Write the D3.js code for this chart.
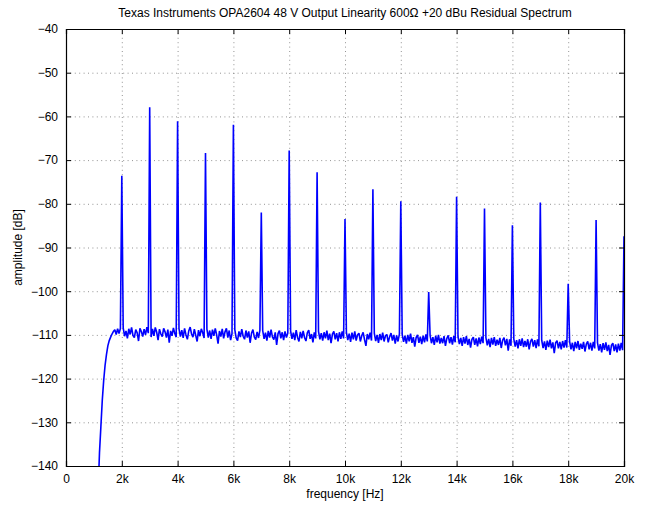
<!DOCTYPE html>
<html><head><meta charset="utf-8">
<script src="https://cdn.jsdelivr.net/npm/d3@7/dist/d3.min.js"></script>
<style>
html,body{margin:0;padding:0;background:#fff;}
svg text{font-family:"Liberation Sans",Arial,Helvetica,sans-serif;fill:#000;}
</style></head><body>
<svg id="chart" width="652" height="509"></svg>
<script>
const title = "Texas Instruments OPA2604 48 V Output Linearity 600\u03A9 +20 dBu Residual Spectrum";
const xLabel = "frequency [Hz]";
const yLabel = "amplitude [dB]";
const xTicks = [0,2000,4000,6000,8000,10000,12000,14000,16000,18000,20000];
const xTickLabels = ["0","2k","4k","6k","8k","10k","12k","14k","16k","18k","20k"];
const yTicks = [-40,-50,-60,-70,-80,-90,-100,-110,-120,-130,-140];

// harmonic residual peaks (Hz, dB)
const harmonicFreqs = [2000,3000,4000,5000,6000,7000,8000,9000,10000,11000,12000,13000,14000,15000,16000,17000,18000,19000,20000];
const harmonicLevels = [-73.6,-57.9,-61.1,-68.4,-61.9,-82.0,-67.8,-72.8,-83.5,-76.7,-79.4,-100.2,-78.4,-81.1,-84.9,-79.7,-98.3,-83.7,-87.4];

// noise floor, sampled every 50 Hz starting at 1150 Hz
const floorStart = 1150, floorStep = 50;
const floorLevels = [
 -146,-137,-131,-125,-120.5,-117,-114.5,-112.5,-111.3,-110.5,-109.8,-109.2,-108.8,-109.9,-108.6,-109.7,-108.5,
 -109.0,-108.4,-110.3,-109.1,-110.8,-108.6,-109.9,-108.3,-110.1,-110.6,-108.8,-109.5,-111.4,-108.5,-109.2,-110.4,-108.7,-110.0,-108.2,-109.6,
 -108.9,-110.5,-108.6,-110.2,-108.3,-109.4,-111.2,-108.7,-109.8,-110.4,-108.5,-109.3,-110.6,-108.8,-111.8,-109.1,-110.2,-108.4,-109.7,-110.5,
 -109.2,-108.6,-110.4,-108.9,-110.7,-108.5,-110.0,-111.0,-109.1,-108.2,-109.8,-110.5,-108.7,-110.1,-111.5,-108.9,-110.3,-108.6,-109.5,-110.7,
 -109.4,-108.7,-110.6,-109.0,-110.9,-108.8,-110.2,-108.5,-110.0,-112.0,-109.1,-110.4,-108.6,-110.8,-109.3,-108.5,-110.6,-109.0,-111.2,-109.7,
 -109.5,-108.8,-110.7,-111.3,-109.2,-110.5,-108.7,-110.3,-111.0,-109.0,-110.6,-109.2,-111.8,-109.6,-108.8,-110.5,-111.1,-109.3,-110.7,-108.9,
 -109.8,-109.0,-110.9,-109.5,-111.3,-109.1,-110.6,-108.8,-110.5,-111.1,-109.4,-112.3,-109.7,-109.0,-110.8,-109.4,-111.2,-109.2,-110.6,-109.6,
 -109.7,-109.1,-110.9,-109.5,-111.2,-108.9,-110.6,-111.5,-109.3,-110.8,-109.1,-110.6,-111.4,-109.5,-108.9,-110.9,-109.8,-111.7,-109.4,-110.8,
 -110.0,-109.2,-111.0,-109.6,-111.3,-109.4,-110.8,-109.0,-111.2,-109.7,-111.9,-109.8,-109.2,-111.0,-109.6,-111.5,-109.4,-110.9,-109.2,-110.8,
 -110.1,-109.4,-111.2,-109.7,-111.6,-109.5,-111.0,-109.2,-111.3,-110.0,-109.6,-111.5,-110.2,-109.4,-111.1,-112.5,-109.8,-111.0,-109.5,-111.3,
 -110.3,-109.6,-111.4,-110.0,-111.8,-109.8,-111.2,-109.5,-111.5,-110.2,-109.9,-111.7,-110.4,-109.6,-111.3,-110.0,-112.0,-110.1,-111.5,-109.8,
 -110.6,-109.9,-111.6,-110.2,-112.0,-110.0,-111.5,-109.7,-111.8,-110.5,-112.7,-110.6,-110.0,-111.8,-110.4,-112.1,-110.2,-111.7,-109.9,-111.5,
 -110.8,-110.1,-111.9,-110.5,-112.3,-110.2,-111.7,-110.0,-112.0,-110.7,-111.9,-110.3,-112.5,-110.8,-110.1,-111.9,-110.5,-112.2,-110.3,-111.7,
 -111.0,-110.4,-112.1,-110.7,-112.5,-110.5,-112.0,-110.3,-112.3,-110.9,-112.9,-111.0,-110.5,-112.3,-110.8,-112.6,-110.6,-112.1,-110.4,-111.9,
 -111.3,-110.6,-112.4,-110.9,-112.8,-110.7,-112.2,-110.5,-112.5,-111.1,-112.3,-110.7,-113.0,-111.2,-110.6,-112.4,-110.9,-113.6,-111.0,-112.5,
 -111.6,-110.9,-112.7,-111.2,-113.1,-111.0,-112.5,-110.8,-112.8,-111.4,-112.7,-111.0,-113.3,-111.5,-110.9,-112.7,-111.2,-113.0,-111.0,-112.6,
 -111.9,-111.2,-113.0,-111.5,-113.4,-111.3,-112.8,-111.1,-113.1,-111.7,-114.2,-111.8,-111.3,-113.1,-111.6,-113.3,-111.4,-112.9,-111.2,-112.9,
 -112.2,-111.5,-113.3,-111.8,-113.7,-111.6,-113.1,-111.4,-113.4,-112.0,-113.2,-111.6,-113.8,-112.1,-111.5,-113.3,-111.8,-113.6,-111.6,-113.1,
 -112.5,-111.8,-113.6,-112.1,-114.0,-111.9,-113.4,-111.7,-113.7,-112.3,-114.6,-112.4,-111.9,-113.7,-112.2,-114.0,-112.0,-113.6,-111.8,-113.5,
 -113.0
];

const W = 652, H = 509;
const m = {left:66, right:28, top:29, bottom:43};
const svg = d3.select("#chart");
const x = d3.scaleLinear().domain([0,20000]).range([m.left, W - m.right]);
const y = d3.scaleLinear().domain([-140,-40]).range([H - m.bottom, m.top]);

// build series
const peakMap = new Map(harmonicFreqs.map((f,i)=>[f,harmonicLevels[i]]));
const series = floorLevels.map((v,i)=>{
  const f = floorStart + i*floorStep;
  return {f, v: peakMap.has(f) ? peakMap.get(f) : v};
});

// grid
const grid = svg.append("g").attr("stroke","#777").attr("stroke-width",0.8).attr("stroke-dasharray","1,3.4");
xTicks.slice(1,-1).forEach(t=>{
  grid.append("line").attr("x1",x(t)+0.5).attr("x2",x(t)+0.5).attr("y1",y(-40)).attr("y2",y(-140));
});
yTicks.slice(1,-1).forEach(t=>{
  grid.append("line").attr("x1",x(0)).attr("x2",x(20000)).attr("y1",y(t)+0.5).attr("y2",y(t)+0.5);
});

// data line
svg.append("clipPath").attr("id","clip").append("rect")
  .attr("x",x(0)).attr("y",y(-40)).attr("width",x(20000)-x(0)+1).attr("height",y(-140)-y(-40));
svg.append("path").datum(series)
  .attr("clip-path","url(#clip)")
  .attr("fill","none").attr("stroke","#0000ff").attr("stroke-width",1.6)
  .attr("stroke-linejoin","miter").attr("stroke-miterlimit",2)
  .attr("d", d3.line().x(d=>x(d.f)).y(d=>y(d.v)));

// axes (MATLAB style: inward ticks on all sides)
const xAxisB = d3.axisBottom(x).tickValues(xTicks).tickSize(-5).tickPadding(8).tickFormat((d,i)=>xTickLabels[i]);
const xAxisT = d3.axisTop(x).tickValues(xTicks).tickSize(-5).tickFormat("");
const yAxisL = d3.axisLeft(y).tickValues(yTicks).tickSize(-5).tickPadding(8).tickFormat(d=>d3.format("d")(d).replace("-","\u2212"));
const yAxisR = d3.axisRight(y).tickValues(yTicks).tickSize(-5).tickFormat("");
function style(g){
  g.selectAll("path.domain").attr("stroke","#000").attr("stroke-width",1.2);
  g.selectAll(".tick line").attr("stroke","#000").attr("stroke-width",1);
  g.selectAll("text").style("font-size","12px").attr("fill","#000");
}
svg.append("g").attr("transform",`translate(0,${y(-140)})`).call(xAxisB).call(style);
svg.append("g").attr("transform",`translate(0,${y(-40)})`).call(xAxisT).call(style);
svg.append("g").attr("transform",`translate(${x(0)},0)`).call(yAxisL).call(style);
svg.append("g").attr("transform",`translate(${x(20000)},0)`).call(yAxisR).call(style);

// labels
svg.append("text").attr("x",(x(0)+x(20000))/2).attr("y",17).attr("text-anchor","middle")
  .style("font-size","12px").text(title);
svg.append("text").attr("x",(x(0)+x(20000))/2).attr("y",498).attr("text-anchor","middle")
  .style("font-size","12px").text(xLabel);
svg.append("text").attr("transform",`translate(22,${(y(-40)+y(-140))/2}) rotate(-90)`).attr("text-anchor","middle")
  .style("font-size","12px").text(yLabel);
</script>
</body></html>
